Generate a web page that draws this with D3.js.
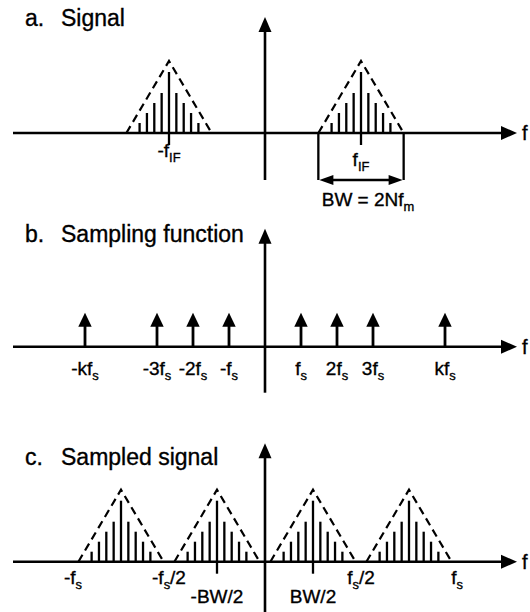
<!DOCTYPE html>
<html>
<head>
<meta charset="utf-8">
<script src="https://cdn.jsdelivr.net/npm/d3@7"></script>
<style>
  body { margin: 0; background: #fff; }
  text { font-family: "Liberation Sans", Arial, sans-serif; fill: #000; stroke: #000; stroke-width: 0.35; }
</style>
</head>
<body>
<script>
const w = 530;
const h = 612;

// one spectral replica: line offsets (multiples of fm) and line heights
const lineOffsets = [-4, -3, -2, -1, 0, 1, 2, 3, 4];
const lineHeights = [1, 2, 3, 4, 6.1, 4, 3, 2, 1];
const envelope = [[-5.8, 0], [0, 7.2], [5.8, 0]];

// a. signal (x in units of f_IF)
const signalCentres = [-1, 1];
const signalLabels = ['-f_{IF}', 'f_{IF}'];
const fmA = 0.0766;
const bwLabel = 'BW = 2Nf_{m}';

// b. sampling function (x in units of fs)
const combPos = [-5, -3, -2, -1, 1, 2, 3, 5];
const combLabels = ['-kf_{s}', '-3f_{s}', '-2f_{s}', '-f_{s}', 'f_{s}', '2f_{s}', '3f_{s}', 'kf_{s}'];
const combHeight = 3.4;

// c. sampled signal (x in units of BW/2)
const sampledCentres = [-3, -1, 1, 3];
const fmC = 0.153;
const sampledTicks = [-1, 1];
const sampledLabelPos = [-4, -2, -1, 1, 2, 4];
const sampledLabels = ['-f_{s}', '-f_{s}/2', '-BW/2', 'BW/2', 'f_{s}/2', 'f_{s}'];

const panelLetters = ['a.', 'b.', 'c.'];
const panelTitles = ['Signal', 'Sampling function', 'Sampled signal'];

const panels = [
  { axisY: 133, top: 11.6, bottom: -4.7, titleY: 26, domain: [-2.625, 2.625] },
  { axisY: 346.7, top: 11.8, bottom: -4.6, titleY: 242, domain: [-7, 7] },
  { axisY: 561.7, top: 11.85, bottom: -5.5, titleY: 465, domain: [-5.25, 5.25] }
];

const svg = d3.select('body')
  .append('svg')
  .attr('width', w)
  .attr('height', h);

function richText(g, str, x, y, size, anchor) {
  const t = g.append('text')
    .attr('x', x)
    .attr('y', y)
    .attr('font-size', size)
    .attr('text-anchor', anchor || 'middle');
  let shifted = false;
  str.split(/_\{([^}]*)\}/).forEach((p, i) => {
    const sub = i % 2 === 1;
    if (!p) return;
    const ts = t.append('tspan').text(p);
    if (sub) {
      ts.attr('font-size', size * 0.68).attr('dy', 5);
      shifted = true;
    } else if (shifted) {
      ts.attr('dy', -5);
      shifted = false;
    }
  });
  return t;
}

function headRight(g, x, y, len, half) {
  g.append('path').attr('d', `M${x},${y}L${x - len},${y - half}L${x - len},${y + half}Z`);
}
function headLeft(g, x, y, len, half) {
  g.append('path').attr('d', `M${x},${y}L${x + len},${y - half}L${x + len},${y + half}Z`);
}
function headUp(g, x, y, len, half) {
  g.append('path').attr('d', `M${x},${y}L${x - half},${y + len}L${x + half},${y + len}Z`);
}

const scales = panels.map(p => ({
  x: d3.scaleLinear().domain(p.domain).range([13, 517]),
  y: d3.scaleLinear().domain([0, 1]).range([p.axisY, p.axisY - 10])
}));

// axes + titles
panels.forEach((p, i) => {
  const { x, y } = scales[i];
  const g = svg.append('g').attr('fill', '#000');

  g.append('line')
    .attr('x1', x(p.domain[0])).attr('x2', x(p.domain[1]) - 10)
    .attr('y1', y(0)).attr('y2', y(0))
    .attr('stroke', '#000').attr('stroke-width', 2.6);
  headRight(g, x(p.domain[1]), y(0), 16, 7);

  g.append('line')
    .attr('x1', x(0)).attr('x2', x(0))
    .attr('y1', y(p.bottom)).attr('y2', y(p.top) + 10)
    .attr('stroke', '#000').attr('stroke-width', 2.6);
  headUp(g, x(0), y(p.top), 15, 6.5);

  g.append('text')
    .attr('x', 522).attr('y', y(0) + 7)
    .attr('font-size', 20)
    .text('f');

  const title = g.append('text')
    .attr('y', p.titleY)
    .attr('font-size', 23);
  title.append('tspan').attr('x', 25).text(panelLetters[i]);
  title.append('tspan').attr('x', 61).text(panelTitles[i]);
});

function replica(g, x, y, centre, fm) {
  g.selectAll(null)
    .data(lineOffsets)
    .enter()
    .append('line')
    .attr('x1', d => x(centre + d * fm))
    .attr('x2', d => x(centre + d * fm))
    .attr('y1', y(0))
    .attr('y2', (d, i) => y(lineHeights[i]))
    .attr('stroke', '#000')
    .attr('stroke-width', 2.3);

  g.append('path')
    .datum(envelope)
    .attr('d', d3.line().x(d => x(centre + d[0] * fm)).y(d => y(d[1])))
    .attr('fill', 'none')
    .attr('stroke', '#000')
    .attr('stroke-width', 2.2)
    .attr('stroke-dasharray', '8,5');
}

// a. Signal
{
  const { x, y } = scales[0];
  const g = svg.append('g').attr('fill', '#000');
  signalCentres.forEach((c, i) => {
    replica(g, x, y, c, fmA);
    g.append('line')
      .attr('x1', x(c)).attr('x2', x(c))
      .attr('y1', y(0)).attr('y2', y(-1.2))
      .attr('stroke', '#000').attr('stroke-width', 2.3);
    richText(g, signalLabels[i], x(c), i === 0 ? 157 : 166, 19);
  });

  // bandwidth bracket on the positive replica
  const c = signalCentres[1];
  const edges = [c + envelope[0][0] * fmA, c + envelope[2][0] * fmA];
  edges.forEach(e => {
    g.append('line')
      .attr('x1', x(e)).attr('x2', x(e))
      .attr('y1', y(0)).attr('y2', y(-4.7))
      .attr('stroke', '#000').attr('stroke-width', 2.3);
  });
  g.append('line')
    .attr('x1', x(edges[0]) + 8).attr('x2', x(edges[1]) - 8)
    .attr('y1', y(-4.7)).attr('y2', y(-4.7))
    .attr('stroke', '#000').attr('stroke-width', 2.3);
  headLeft(g, x(edges[0]) + 1, y(-4.7), 14, 5);
  headRight(g, x(edges[1]) - 1, y(-4.7), 14, 5);
  richText(g, bwLabel, x(c) + 7, 206, 19);
}

// b. Sampling function
{
  const { x, y } = scales[1];
  const g = svg.append('g').attr('fill', '#000');
  g.selectAll(null)
    .data(combPos)
    .enter()
    .append('line')
    .attr('x1', d => x(d)).attr('x2', d => x(d))
    .attr('y1', y(0)).attr('y2', y(combHeight) + 10)
    .attr('stroke', '#000').attr('stroke-width', 2.8);
  combPos.forEach((d, i) => {
    headUp(g, x(d), y(combHeight), 14, 6.7);
    richText(g, combLabels[i], x(d), 375, 19);
  });
}

// c. Sampled signal
{
  const { x, y } = scales[2];
  const g = svg.append('g').attr('fill', '#000');
  sampledCentres.forEach(c => replica(g, x, y, c, fmC));
  sampledTicks.forEach(t => {
    g.append('line')
      .attr('x1', x(t)).attr('x2', x(t))
      .attr('y1', y(0)).attr('y2', y(-1.2))
      .attr('stroke', '#000').attr('stroke-width', 2.3);
  });
  sampledLabelPos.forEach((p, i) => {
    const low = sampledLabels[i].includes('BW');
    richText(g, sampledLabels[i], x(p), low ? 603 : 584, 19);
  });
}
</script>
</body>
</html>
